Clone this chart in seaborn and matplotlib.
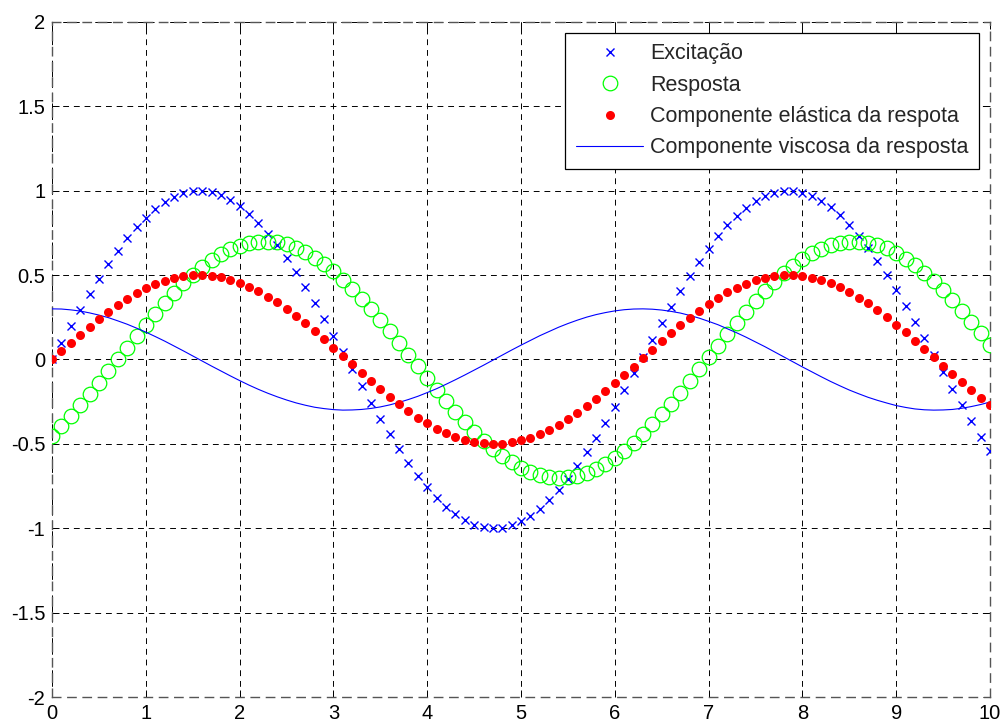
import numpy as np
import matplotlib
matplotlib.use("Agg")
import matplotlib.pyplot as plt
import seaborn as sns

# time grid (0 to 10, step 0.1)
t = np.linspace(0, 10, 101)

excitacao = [
    0.000, 0.100, 0.199, 0.296, 0.389, 0.479, 0.565, 0.644, 0.717, 0.783,
    0.841, 0.891, 0.932, 0.964, 0.985, 0.997, 1.000, 0.992, 0.974, 0.946,
    0.909, 0.863, 0.808, 0.746, 0.676, 0.599, 0.516, 0.427, 0.335, 0.239,
    0.141, 0.042, -0.058, -0.158, -0.256, -0.351, -0.443, -0.530, -0.612, -0.688,
    -0.757, -0.818, -0.872, -0.916, -0.952, -0.978, -0.994, -1.000, -0.996, -0.983,
    -0.959, -0.926, -0.884, -0.832, -0.773, -0.706, -0.631, -0.551, -0.465, -0.374,
    -0.279, -0.182, -0.083, 0.017, 0.117, 0.215, 0.312, 0.405, 0.494, 0.578,
    0.657, 0.729, 0.794, 0.850, 0.899, 0.938, 0.968, 0.988, 0.999, 0.999,
    0.989, 0.970, 0.941, 0.902, 0.855, 0.799, 0.734, 0.663, 0.585, 0.501,
    0.412, 0.319, 0.223, 0.125, 0.025, -0.075, -0.174, -0.272, -0.367, -0.458,
    -0.544,
]

resposta = [
    -0.451, -0.395, -0.335, -0.272, -0.207, -0.139, -0.070, 0.000, 0.070, 0.139,
    0.207, 0.272, 0.335, 0.395, 0.451, 0.502, 0.548, 0.589, 0.624, 0.652,
    0.675, 0.690, 0.698, 0.699, 0.694, 0.682, 0.662, 0.636, 0.604, 0.566,
    0.522, 0.473, 0.419, 0.361, 0.299, 0.235, 0.167, 0.099, 0.029, -0.041,
    -0.110, -0.179, -0.245, -0.310, -0.371, -0.428, -0.481, -0.530, -0.573, -0.610,
    -0.641, -0.665, -0.684, -0.696, -0.700, -0.697, -0.688, -0.672, -0.648, -0.618,
    -0.583, -0.541, -0.494, -0.442, -0.385, -0.325, -0.262, -0.196, -0.128, -0.058,
    0.012, 0.082, 0.151, 0.218, 0.283, 0.346, 0.405, 0.460, 0.510, 0.556,
    0.595, 0.629, 0.656, 0.677, 0.692, 0.699, 0.699, 0.693, 0.679, 0.659,
    0.632, 0.598, 0.559, 0.514, 0.464, 0.409, 0.351, 0.288, 0.223, 0.156,
    0.087,
]

elastica = [
    0.000, 0.050, 0.099, 0.148, 0.195, 0.240, 0.282, 0.322, 0.359, 0.392,
    0.421, 0.446, 0.466, 0.482, 0.493, 0.499, 0.500, 0.496, 0.487, 0.473,
    0.455, 0.432, 0.404, 0.373, 0.338, 0.299, 0.258, 0.214, 0.168, 0.120,
    0.071, 0.021, -0.029, -0.079, -0.128, -0.175, -0.221, -0.265, -0.306, -0.344,
    -0.378, -0.409, -0.436, -0.458, -0.476, -0.489, -0.497, -0.500, -0.498, -0.491,
    -0.479, -0.463, -0.442, -0.416, -0.386, -0.353, -0.316, -0.275, -0.232, -0.187,
    -0.140, -0.091, -0.042, 0.008, 0.058, 0.108, 0.156, 0.202, 0.247, 0.289,
    0.329, 0.365, 0.397, 0.425, 0.449, 0.469, 0.484, 0.494, 0.499, 0.499,
    0.495, 0.485, 0.470, 0.451, 0.427, 0.399, 0.367, 0.332, 0.292, 0.251,
    0.206, 0.160, 0.111, 0.062, 0.012, -0.038, -0.087, -0.136, -0.183, -0.229,
    -0.272,
]

viscosa = [
    0.300, 0.299, 0.294, 0.287, 0.276, 0.263, 0.248, 0.229, 0.209, 0.186,
    0.162, 0.136, 0.109, 0.080, 0.051, 0.021, -0.009, -0.039, -0.068, -0.097,
    -0.125, -0.152, -0.177, -0.200, -0.221, -0.240, -0.257, -0.271, -0.283, -0.291,
    -0.297, -0.300, -0.299, -0.296, -0.290, -0.281, -0.269, -0.254, -0.237, -0.218,
    -0.196, -0.173, -0.147, -0.120, -0.092, -0.063, -0.034, -0.004, 0.026, 0.056,
    0.085, 0.113, 0.141, 0.166, 0.191, 0.213, 0.233, 0.251, 0.266, 0.278,
    0.288, 0.295, 0.299, 0.300, 0.298, 0.293, 0.285, 0.275, 0.261, 0.245,
    0.226, 0.206, 0.182, 0.158, 0.132, 0.104, 0.076, 0.046, 0.016, -0.014,
    -0.044, -0.073, -0.102, -0.130, -0.156, -0.181, -0.203, -0.224, -0.242, -0.258,
    -0.273, -0.284, -0.293, -0.298, -0.300, -0.299, -0.296, -0.289, -0.279, -0.267,
    -0.252,
]

labels = ["Excitação", "Resposta", "Componente elástica da respota",
          "Componente viscosa da resposta"]

xticks = [0, 1, 2, 3, 4, 5, 6, 7, 8, 9, 10]
yticks = [-2, -1.5, -1, -0.5, 0, 0.5, 1, 1.5, 2]
yticklabels = ["-2", "-1.5", "-1", "-0.5", "0", "0.5", "1", "1.5", "2"]

sns.set_style("white")
plt.rcParams["font.family"] = ["Liberation Sans", "DejaVu Sans"]

fig = plt.figure(figsize=(10.02, 7.25), dpi=100)
ax = fig.add_axes([0.052, 0.0386, 0.936, 0.9311])

sns.lineplot(x=t, y=excitacao, ax=ax, ls="", marker="x", ms=6, mew=1.0,
             mec="#0000FF", color="#0000FF", label=labels[0], zorder=3)
sns.lineplot(x=t, y=resposta, ax=ax, ls="", marker="o", ms=10.5, mew=0.9,
             mfc="none", mec="#00FF00", color="#00FF00", label=labels[1], zorder=3)
sns.lineplot(x=t, y=elastica, ax=ax, ls="", marker="o", ms=6.5, mew=0,
             color="#FF0000", mfc="#FF0000", mec="#FF0000", label=labels[2], zorder=4)
sns.lineplot(x=t, y=viscosa, ax=ax, lw=0.8, color="#0000FF", label=labels[3],
             zorder=3)

ax.set_xlim(0, 10)
ax.set_ylim(-2, 2)
ax.set_xticks(xticks)
ax.set_xticklabels([str(v) for v in xticks])
ax.set_yticks(yticks)
ax.set_yticklabels(yticklabels)
ax.grid(True, color="black", linestyle=(0, (6, 5)), linewidth=0.7)
ax.set_axisbelow(True)
ax.tick_params(direction="in", length=5, width=0.7, labelsize=14.5,
               top=True, right=True, bottom=True, left=True, pad=5, colors="black")
for s in ax.spines.values():
    s.set_visible(True)
    s.set_color("#555555")
    s.set_linewidth(1.0)
    s.set_linestyle((0, (6, 5)))

leg = ax.legend(loc="upper right", fontsize=15.5, frameon=True, fancybox=False,
                framealpha=1, edgecolor="black", handlelength=3.1,
                borderaxespad=0.5, labelspacing=0.48, handletextpad=0.33,
                borderpad=0.5)
leg.get_frame().set_linewidth(0.9)

fig.savefig("out.png", dpi=100, facecolor="white")
